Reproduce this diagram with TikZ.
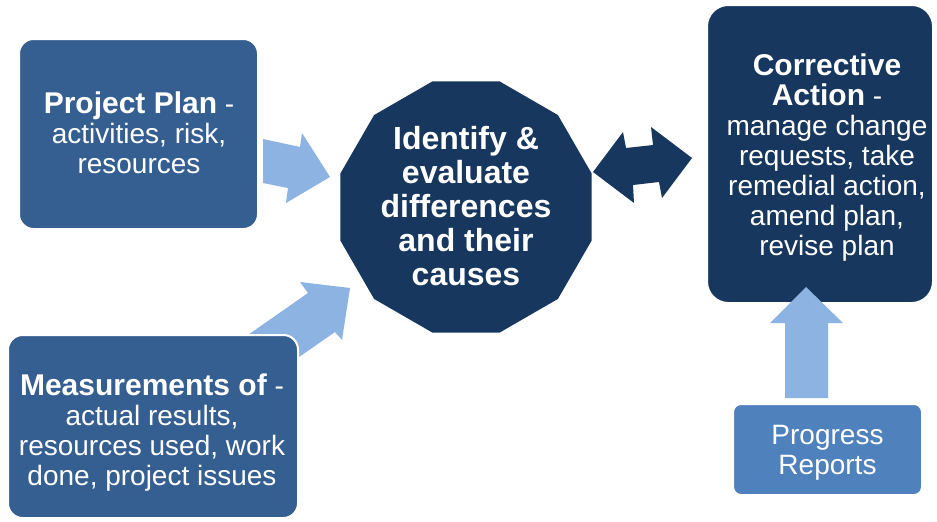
\documentclass[tikz,border=0pt]{standalone}
\usepackage{fontspec}
\setmainfont{Liberation Sans}
\usetikzlibrary{shapes.geometric,backgrounds}
\definecolor{midblue}{HTML}{365F91}
\definecolor{navy}{HTML}{17375E}
\definecolor{lightarrow}{HTML}{8DB3E2}
\definecolor{progblue}{HTML}{4F81BD}
\newcommand{\headtxt}[1]{{\fontsize{22.5}{22.5}\selectfont\bfseries #1}}
\tikzset{
  boxbase/.style={rectangle, draw=white, line width=1.5pt, inner sep=0pt},
  bodytext/.style={text=white, align=center, inner sep=0pt, font=\fontsize{21}{22.5}\selectfont},
  octtextstyle/.style={text=white, align=center, inner sep=0pt, font=\fontsize{24}{25.5}\selectfont\bfseries},
  lightblock/.style={fill=lightarrow, draw=none},
  navyblock/.style={fill=navy, draw=none}
}
\begin{document}
\begin{tikzpicture}[x=0.75pt,y=-0.75pt]
\useasboundingbox (0,0) rectangle (937,521);

% Project Plan
\node[boxbase, fill=midblue, rounded corners=11pt, minimum width=179.25pt, minimum height=142.5pt] (plan) at (138.5,134) {};
\node[bodytext] (plantext) at (139,133) {\headtxt{Project Plan} -\\activities, risk,\\resources};

% Measurements
\node[boxbase, fill=midblue, rounded corners=11pt, minimum width=217.5pt, minimum height=137.25pt] (meas) at (153,426.5) {};
\node[bodytext] (meastext) at (152,433) {\headtxt{Measurements of} -\\actual results,\\resources used, work\\done, project issues};

% Octagon (12-gon)
\node[regular polygon, regular polygon sides=12, fill=navy, draw=none, inner sep=0pt, minimum size=195pt] (oct) at (466,207) {};
\node[octtextstyle] (octtext) at (466,206) {Identify \&\\evaluate\\differences\\and their\\causes};

% Corrective Action
\node[boxbase, fill=navy, rounded corners=16pt, minimum width=169.5pt, minimum height=223.5pt] (corr) at (820,154) {};
\node[bodytext] (corrtext) at (827,158) {\headtxt{Corrective}\\\headtxt{Action} -\\manage change\\requests, take\\remedial action,\\amend plan,\\revise plan};

% Progress Reports
\node[boxbase, fill=progblue, rounded corners=6pt, minimum width=141.75pt, minimum height=68.25pt] (prog) at (827.5,449.5) {};
\node[bodytext] (progtext) at (827.5,452.5) {Progress\\Reports};

% Arrow: plan -> octagon
\fill[lightblock] (263,139) -- (300,147) -- (302,133) -- (330,177) -- (286,203) -- (288,188) -- (263,183) -- cycle;

% Arrow: measurements -> octagon (behind measurements box)
\begin{scope}[on background layer]
\fill[white] (0,0) rectangle (937,521);
\fill[lightblock] (240,340.5) -- (308,293) -- (300,282) -- (350,288) -- (342,340) -- (335,332) -- (261,383.5) -- cycle;
\end{scope}

% Double arrow: octagon <-> corrective action
\fill[navyblock] (593,172) -- (623,132) -- (626,148) -- (653,145) -- (651,127) -- (692,158) -- (662,198) -- (659,182) -- (633,185) -- (634,203) -- cycle;

% Arrow: progress -> corrective action
\fill[lightblock] (806,287) -- (843,323) -- (828,323) -- (828,398) -- (785,398) -- (785,323) -- (770,323) -- cycle;
\end{tikzpicture}
\end{document}
